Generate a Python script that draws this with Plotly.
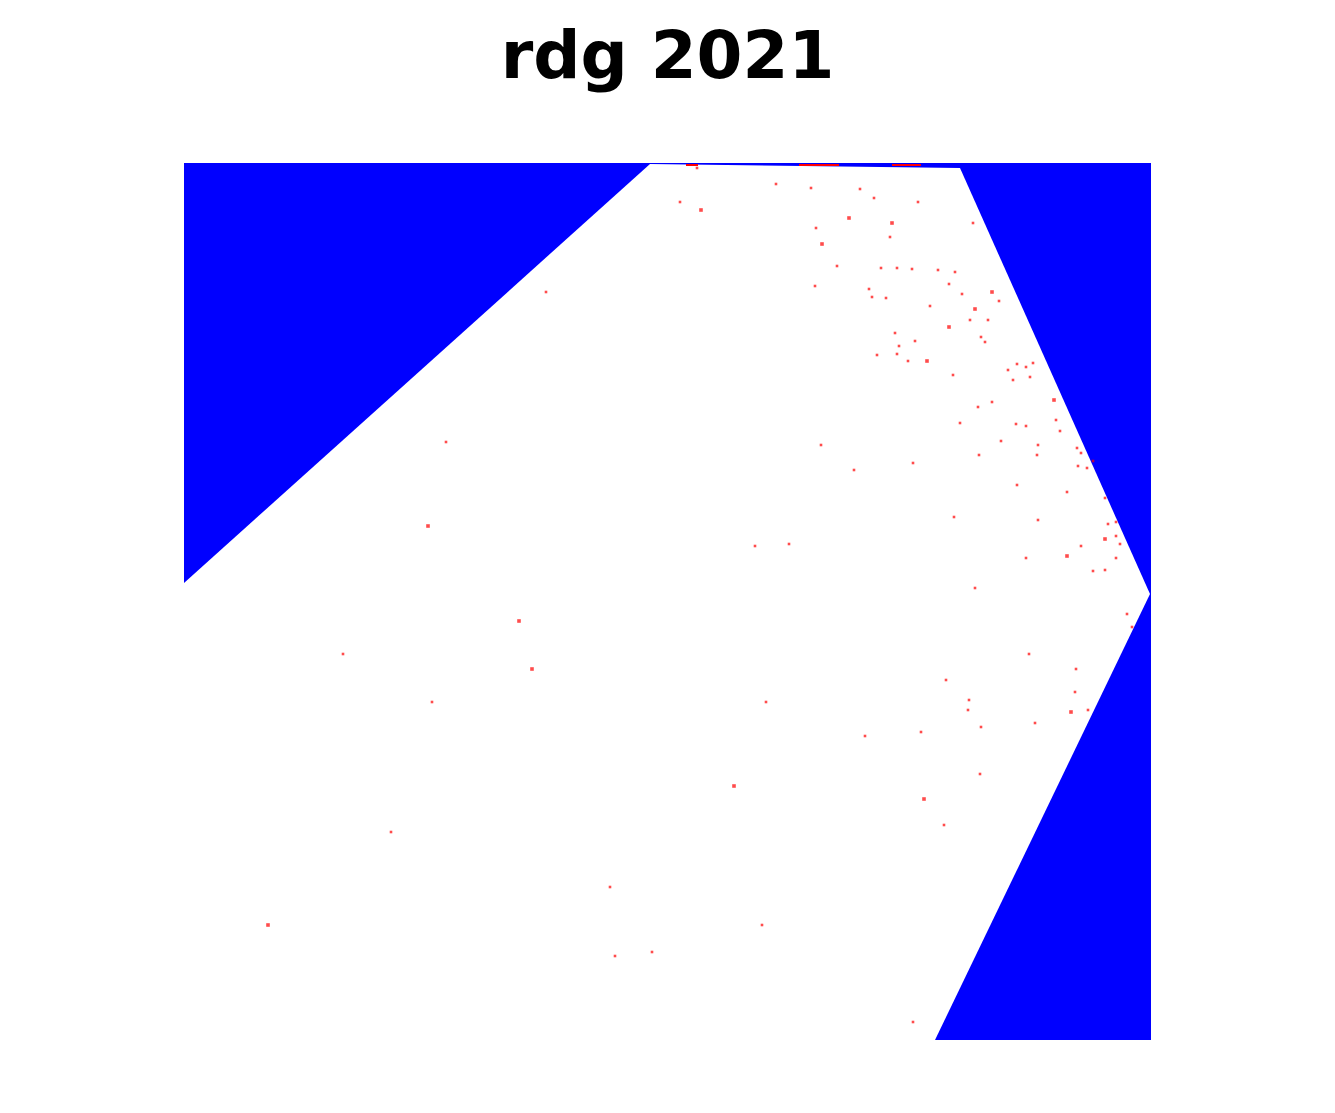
import plotly.graph_objects as go

# grille : colonnes 0..967, lignes 0..877 (ligne 0 en haut)
n_cols = 967
n_rows = 877

# zone blanche (valeurs nulles), le reste du carré est bleu
zone_x = [0, 466, 776, 966, 751, 0]
zone_y = [420, 1, 5, 431, 877, 877]

# traits rouges le long du bord supérieur
bord_x = [[502, 514], [615, 655], [708, 737]]
bord_y = 2

# points rouges : colonne, ligne, poids (1 = petit, 2 = gros)
pts_x = [513, 592, 627, 676, 690, 496, 734, 517, 665, 708, 789, 632, 706, 638,
         653, 697, 713, 728, 754, 771, 631, 765, 685, 688, 702, 778, 808, 815,
         746, 791, 786, 804, 765, 711, 797, 801, 731, 715, 713, 693, 724, 743,
         824, 833, 842, 849, 829, 846, 769, 870, 808, 794, 872, 776, 832, 842,
         876, 817, 854, 893, 897, 795, 853, 909, 637, 729, 894, 903, 670, 833,
         883, 921, 770, 854, 932, 924, 932, 921, 936, 571, 605, 897, 842, 932,
         883, 909, 921, 791,
         362, 262, 244,
         335, 159, 348, 248, 207, 426, 84, 431, 468,
         943, 948, 845, 892, 762, 891, 582, 785, 784, 887, 904, 851, 797, 681,
         737, 796, 550, 740, 760, 578, 729]
pts_y = [5, 21, 25, 26, 35, 39, 39, 47, 55, 60, 60, 65, 74, 81,
         103, 105, 105, 106, 107, 109, 123, 121, 126, 134, 135, 131, 129, 138,
         143, 146, 157, 157, 164, 170, 174, 179, 178, 183, 191, 192, 198, 198,
         207, 201, 204, 200, 217, 214, 212, 237, 239, 244, 257, 260, 261, 263,
         268, 278, 282, 285, 290, 292, 292, 298, 282, 300, 303, 305, 307, 322,
         329, 335, 354, 357, 359, 361, 373, 376, 381, 383, 381, 383, 395, 395,
         393, 408, 407, 425,
         129, 279, 363,
         458, 491, 506, 539, 669, 724, 762, 793, 789,
         451, 464, 491, 506, 517, 529, 539, 537, 547, 549, 547, 560, 564, 573,
         569, 611, 623, 636, 662, 762, 859]
pts_poids = [1, 1, 1, 1, 1, 1, 1, 2, 2, 2, 1, 1, 1, 2,
             1, 1, 1, 1, 1, 1, 1, 1, 1, 1, 1, 1, 2, 1,
             1, 2, 1, 1, 2, 1, 1, 1, 1, 1, 1, 1, 1, 2,
             1, 1, 1, 1, 1, 1, 1, 2, 1, 1, 1, 1, 1, 1,
             1, 1, 1, 1, 1, 1, 1, 1, 1, 1, 1, 1, 1, 1,
             1, 1, 1, 1, 1, 1, 1, 2, 1, 1, 1, 1, 1, 1,
             2, 1, 1, 1,
             1, 1, 2,
             2, 1, 2, 1, 1, 1, 2, 1, 1,
             1, 1, 1, 1, 1, 1, 1, 1, 1, 2, 1, 1, 1, 1,
             1, 1, 2, 2, 1, 1, 1]

fig = go.Figure()

fig.add_trace(go.Scatter(
    x=zone_x, y=zone_y, fill='toself', fillcolor='white',
    mode='lines', line=dict(width=0), hoverinfo='skip'
))

for seg in bord_x:
    fig.add_trace(go.Scatter(
        x=seg, y=[bord_y, bord_y], mode='lines',
        line=dict(color='red', width=2), hoverinfo='skip'
    ))

fig.add_trace(go.Scatter(
    x=pts_x, y=pts_y, mode='markers',
    marker=dict(symbol='square', color='red',
                size=[2.6 if p == 1 else 3.6 for p in pts_poids],
                line=dict(width=0))
))

# la page ajoute une marge de 8 px autour du graphique
fig.update_layout(
    width=1335, height=1113,
    margin=dict(l=176, r=192, t=155, b=81),
    plot_bgcolor='#0000ff',
    paper_bgcolor='white',
    showlegend=False,
    title=dict(text='<b>rdg 2021</b>', x=176 / 1335 + 967 / 2 / 1335, xanchor='center',
               y=1 - 47 / 1113, yanchor='middle',
               font=dict(family='DejaVu Sans', size=66, color='black')),
)
fig.update_xaxes(range=[0, n_cols], visible=False, showgrid=False, zeroline=False)
fig.update_yaxes(range=[n_rows, 0], visible=False, showgrid=False, zeroline=False)

fig.write_html('out.html')
